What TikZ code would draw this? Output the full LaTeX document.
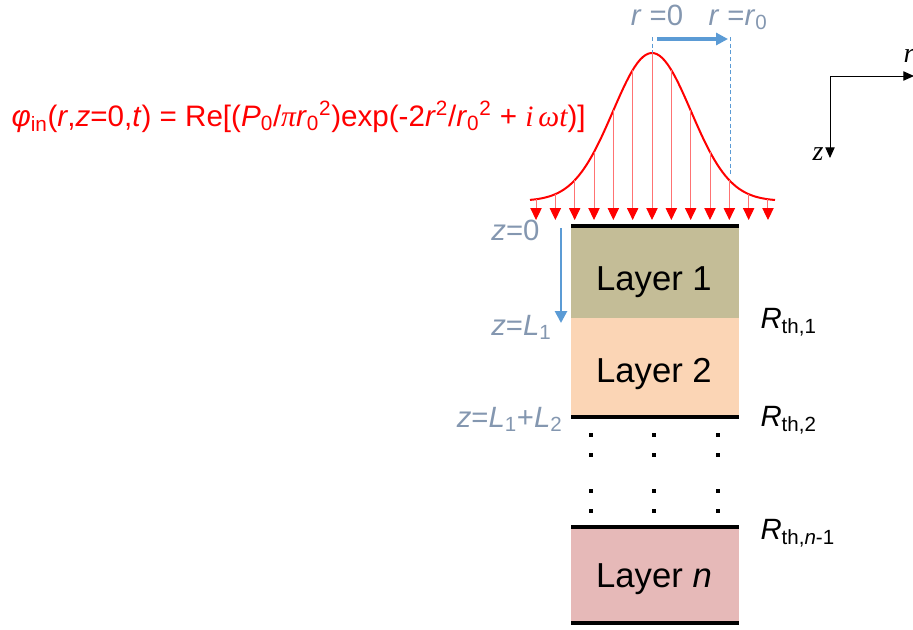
\documentclass[tikz,border=0pt]{standalone}
\usepackage{fontspec}
\setmainfont{Liberation Sans}
\newfontfamily\timesfont{Liberation Serif}
\usetikzlibrary{arrows.meta}

\definecolor{layerone}{RGB}{196,189,151}
\definecolor{layertwo}{RGB}{251,213,181}
\definecolor{layern}{RGB}{230,185,184}
\definecolor{axisblue}{RGB}{91,155,213}
\definecolor{labelgray}{RGB}{132,151,176}

\tikzset{every picture/.style={line width=0.75pt}}
\tikzset{
  interface/.style={line width=3pt},
  beam/.style={draw=red!55, -{Triangle[length=9pt,width=8.5pt,red]}},
  bluearrow/.style={axisblue, line width=2.5pt, -{Triangle[length=9pt,width=9pt]}},
  bluedash/.style={axisblue, dash pattern={on 3pt off 2pt}},
  axisarrow/.style={-{Triangle[length=8pt,width=7pt]}},
  layerlabel/.style={inner sep=0.75pt, font=\fontsize{26}{30}\selectfont},
  graylabel/.style={inner sep=0.75pt, labelgray, font=\fontsize{22}{26}\selectfont},
  rlabel/.style={inner sep=0.75pt, font=\fontsize{22}{26}\selectfont},
}

\begin{document}
\begin{tikzpicture}[x=0.75pt,y=0.75pt,yscale=-1,xscale=1]
\useasboundingbox (0,0) rectangle (913,629);

%Layer fills
\fill[layerone] (571,226) rectangle (739,318);
\fill[layertwo] (571,318) rectangle (739,417);
\fill[layern] (571,527) rectangle (739,623);
%Interfaces
\draw[interface] (571,226) -- (739,226);
\draw[interface] (571,417) -- (739,417);
\draw[interface] (571,527) -- (739,527);
\draw[interface] (571,623) -- (739,623);

%Dots between layers
\foreach \dx in {591,654,718}
  \foreach \dy in {435,455,491,511}
    \fill (\dx-1.6,\dy-1.6) rectangle (\dx+1.6,\dy+1.6);

%Gaussian beam profile
\draw[red, line width=1.5pt] plot[domain=-122:123, samples=90] ({652+\x},{201-148*exp(-2*(\x/78)^2)});
%Beam arrows
\foreach \k in {-6,...,6} {
  \pgfmathsetmacro\ytop{201-148*exp(-2*(\k*19.33/78)^2)}
  \draw[beam] (652+\k*19.33,\ytop) -- (652+\k*19.33,220);
}

%Radius markers
\coordinate (rzero) at (652,37);
\coordinate (rpeak) at (652,53);
\coordinate (rend) at (730,37);
\coordinate (rfoot) at (730,176);
\draw[bluedash] (rzero) -- (rpeak);
\draw[bluedash] (rend) -- (rfoot);
\draw[bluearrow] (657,39) -- (728,39);

%Depth arrow
\coordinate (ztop) at (561,228);
\coordinate (zbot) at (561,323);
\draw[bluearrow, line width=2pt] (ztop) -- (zbot);

%Axes
\coordinate (origin) at (830,76);
\coordinate (raxis) at (914,76);
\coordinate (zaxis) at (830,158);
\draw[axisarrow] (origin) -- (raxis);
\draw[axisarrow] (origin) -- (zaxis);

% Text Node
\node[layerlabel, anchor=base] (lone) at (654,290) {Layer 1};
% Text Node
\node[layerlabel, anchor=base] (ltwo) at (654,382) {Layer 2};
% Text Node
\node[layerlabel, anchor=base] (ln) at (654,587) {Layer \textit{n}};

% Text Node
\node[graylabel, anchor=base east] (zzero) at (541,240) {\textit{z}=0};
% Text Node
\node[graylabel, anchor=base east] (zlone) at (553,335) {\textit{z}=\textit{L}\textsubscript{1}};
% Text Node
\node[graylabel, anchor=base east] (zltwo) at (564,427) {\textit{z}=\textit{L}\textsubscript{1}+\textit{L}\textsubscript{2}};

% Text Node
\node[graylabel, anchor=base] (rzerolab) at (657,25) {\textit{r} =0};
% Text Node
\node[graylabel, anchor=base west] (rendlab) at (707,25) {\textit{r} =\textit{r}\textsubscript{0}};

% Text Node
\node[rlabel, anchor=base west] (rthone) at (759,328) {\textit{R}\textsubscript{th,1}};
% Text Node
\node[rlabel, anchor=base west] (rthtwo) at (759,426) {\textit{R}\textsubscript{th,2}};
% Text Node
\node[rlabel, anchor=base west] (rthn) at (759,539) {\textit{R}\textsubscript{th,\textit{n}-1}};

% Text Node
\node[inner sep=0.75pt, anchor=base west, font=\timesfont\itshape\fontsize{21}{24}\selectfont] (rax) at (902,62) {r};
% Text Node
\node[inner sep=0.75pt, anchor=base east, font=\timesfont\itshape\fontsize{21}{24}\selectfont] (zax) at (825,160) {z};

% Text Node
\node[inner sep=0.75pt, anchor=base west, red, font=\fontsize{22.2}{26}\selectfont] (flux) at (10,126)
  {\textit{φ}\textsubscript{in}(\textit{r},\textit{z}=0,\textit{t}) = Re[(\textit{P}\textsubscript{0}/{\timesfont\itshape π}\textit{r}\textsubscript{0}\textsuperscript{2})exp(-2\textit{r}\textsuperscript{2}/\textit{r}\textsubscript{0}\textsuperscript{2} + {\timesfont\itshape i\,ωt})]};

\end{tikzpicture}
\end{document}
